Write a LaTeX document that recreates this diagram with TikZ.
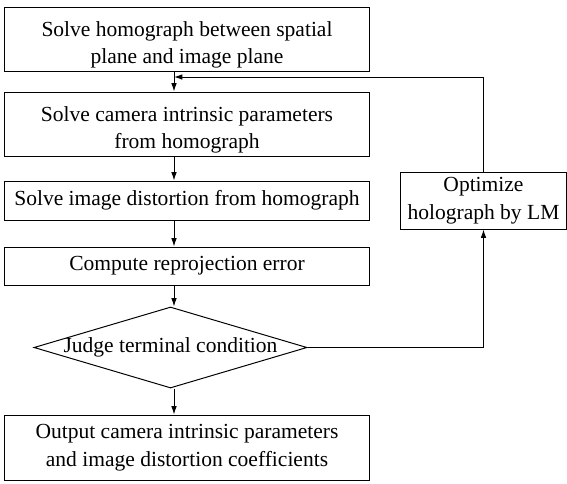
\documentclass[tikz,border=0pt]{standalone}
\usepackage{fontspec}
\setmainfont{Liberation Serif}
\usetikzlibrary{shapes.geometric, arrows.meta}

\newcommand{\topgap}{\rule{0pt}{19pt}}

\begin{document}
\begin{tikzpicture}[
  x=0.025cm, y=-0.025cm,
  every node/.style={
    font=\fontsize{15.3}{19.5}\selectfont, align=center,
  },
  stepbox/.style={
    draw, line width=0.7pt, minimum width=9.1cm, inner sep=0pt
  },
  decide/.style={
    diamond, draw, line width=0.7pt, inner sep=0pt,
    minimum width=6.825cm, minimum height=2.025cm
  },
  arr/.style={
    line width=0.7pt, -{Latex[length=6pt,width=4pt]}
  }
  ]
  \useasboundingbox (0,0) rectangle (567,483);
  % main column
  \node[stepbox, minimum height=1.6cm] (homo) at (187,39)
    {\topgap Solve homograph between spatial\\plane and image plane};
  \node[stepbox, minimum height=1.6cm] (intr) at (187,124)
    {\topgap Solve camera intrinsic parameters\\from homograph};
  \node[stepbox, minimum height=0.975cm] (dist) at (187,200.5)
    {Solve image distortion from homograph};
  \node[stepbox, minimum height=0.95cm] (reproj) at (187,266)
    {Compute reprojection error};
  \node[decide, label=center:{Judge terminal condition}] (judge) at (170.5,347.5) {};
  \node[stepbox, minimum height=1.625cm] (output) at (187,447.5)
    {Output camera intrinsic parameters\\and image distortion coefficients};
  % loop box
  \node[stepbox, minimum width=4.125cm, minimum height=1.425cm] (optim) at (483.5,200.5)
    {Optimize\\holograph by LM};
  \coordinate (col) at (174,0);
  \coordinate (back) at (174,77);

  \draw[arr] (homo.south -| col) -- (intr.north -| col);
  \draw[arr] (intr.south -| col) -- (dist.north -| col);
  \draw[arr] (dist.south -| col) -- (reproj.north -| col);
  \draw[arr] (reproj.south -| col) -- (judge.north -| col);
  \draw[arr] (judge.south -| col) -- (output.north -| col);
  \draw[arr] (judge.east) -| (optim.south);
  \draw[arr] (optim.north) |- (back);
\end{tikzpicture}
\end{document}
